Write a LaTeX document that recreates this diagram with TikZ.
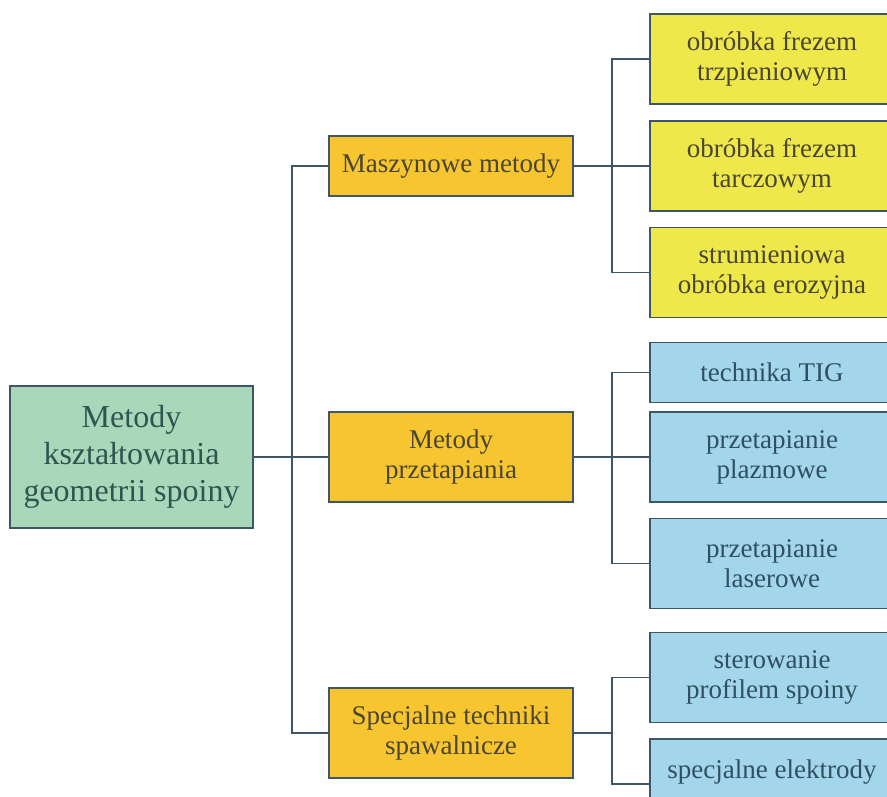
\documentclass[tikz,border=0pt]{standalone}
\usepackage{fontspec}
\setmainfont{Liberation Serif}
\usepackage{tikz}

\definecolor{rimcol}{HTML}{3E5668}
\definecolor{rootfill}{HTML}{A9D7B9}
\definecolor{groupfill}{HTML}{F7C52F}
\definecolor{millfill}{HTML}{EFE84B}
\definecolor{meltfill}{HTML}{A3D5EB}
\definecolor{inkgreen}{HTML}{2F5550}
\definecolor{inkbrown}{HTML}{4A4535}
\definecolor{inkblue}{HTML}{2F5060}

\begin{document}
\begin{tikzpicture}[x=1pt,y=-1pt,
    box/.style={draw=rimcol,line width=1.5pt,align=center,minimum width=244pt,
      minimum height=90pt,font=\fontsize{27}{30}\selectfont},
    rootbox/.style={box,fill=rootfill,text=inkgreen,minimum width=243pt,
      minimum height=142pt,font=\fontsize{32}{37}\selectfont},
    groupbox/.style={box,fill=groupfill,text=inkbrown},
    millbox/.style={box,fill=millfill,text=inkbrown},
    meltbox/.style={box,fill=meltfill,text=inkblue},
    link/.style={draw=rimcol,line width=1.5pt}]
    \useasboundingbox (0,0) rectangle (887,796);
    \clip (0,0) rectangle (887,796);

    % Root
    \node[rootbox] (root) at (131.5,457) {Metody\\kształtowania\\geometrii spoiny};

    % Groups of methods
    \node[groupbox,minimum height=60pt] (mach) at (451,166) {Maszynowe metody};
    \node[groupbox] (remelt) at (451,457) {Metody\\przetapiania};
    \node[groupbox] (spec) at (451,733) {Specjalne techniki\\spawalnicze};

    % Machining
    \node[millbox] (mill1) at (772,59) {obróbka frezem\\trzpieniowym};
    \node[millbox] (mill2) at (772,166) {obróbka frezem\\tarczowym};
    \node[millbox] (jet) at (772,272.5) {strumieniowa\\obróbka erozyjna};

    % Remelting
    \node[meltbox,minimum height=60pt] (tig) at (772,372.5) {technika TIG};
    \node[meltbox] (plasma) at (772,457) {przetapianie\\plazmowe};
    \node[meltbox] (laser) at (772,563.5) {przetapianie\\laserowe};

    % Special techniques
    \node[meltbox] (profile) at (772,677.5) {sterowanie\\profilem spoiny};
    \node[meltbox] (electrode) at (772,784) {specjalne elektrody\\\mbox{}};

    % Trunk and branches
    \coordinate (trunk) at (292,457);
    \coordinate (bmach) at (612,166);
    \coordinate (bmelt) at (612,457);
    \coordinate (bspec) at (612,733);

    \draw[link] (root) -- (remelt);
    \draw[link] (mach.west) -| (trunk) |- (spec.west);

    \draw[link] (mach) -- (mill2);
    \draw[link] (mill1.west) -| (bmach) |- (jet.west);

    \draw[link] (remelt) -- (plasma);
    \draw[link] (tig.west) -| (bmelt) |- (laser.west);

    \draw[link] (spec.east) -- (bspec);
    \draw[link] (profile.west) -| (bspec) |- (electrode.west);

\end{tikzpicture}
\end{document}
